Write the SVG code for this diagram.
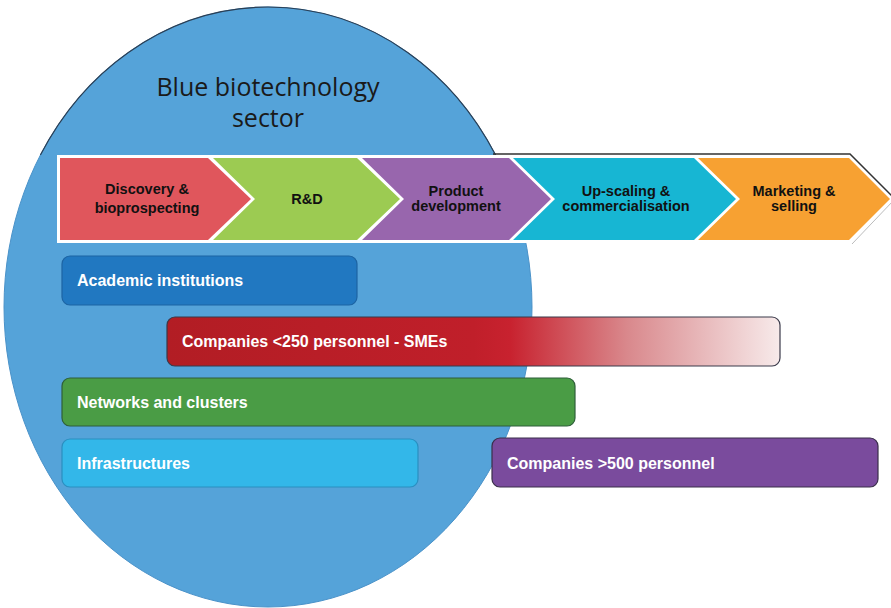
<svg xmlns="http://www.w3.org/2000/svg" width="891" height="608" viewBox="0 0 891 608">
<defs>
<linearGradient id="smeGrad" x1="0" y1="0" x2="1" y2="0">
<stop offset="0" stop-color="#b21d24"/>
<stop offset="0.5" stop-color="#c01f2a"/>
<stop offset="0.56" stop-color="#c8222f"/>
<stop offset="0.75" stop-color="#d9888c"/>
<stop offset="1" stop-color="#f7eaea"/>
</linearGradient>
</defs>
<style>
.chev-text{font-family:"Liberation Sans",Arial,sans-serif;font-weight:bold;font-size:14.5px;fill:#111;text-anchor:middle}
.bar-text{font-family:"Liberation Sans",Arial,sans-serif;font-weight:bold;font-size:16px;fill:#fff}
.bar{stroke-width:1.2}
.title{font-family:"Open Sans","Liberation Sans",sans-serif;font-size:25px;fill:#1a1a1a;text-anchor:middle}
</style>
<rect width="891" height="608" fill="#fff"/>
<g id="sector">
<ellipse cx="268" cy="307" rx="264" ry="300" fill="#55a3d9" stroke="#4a92c9" stroke-width="1"/>
<path d="M40.4,155 A264,300 0 0 1 495.6,155" fill="none" stroke="#2a3f55" stroke-width="1.2"/>
<text class="title" x="268" y="96">Blue biotechnology</text>
<text class="title" x="268" y="127">sector</text>
</g>
<g id="valuechain">
<polygon points="57,155 850,155 893,199 850,243 57,243" fill="#fff"/>
<polyline points="493,154 850,154 893,197" fill="none" stroke="#333" stroke-width="1.5"/>
<polyline points="852,244 893,201" fill="none" stroke="#bbb" stroke-width="1"/>
</g>
<g id="stage1">
<polygon points="60,158 208,158 251,199 208,240 60,240" fill="#e0565c"/>
<text class="chev-text" x="147" y="194">Discovery &amp;</text>
<text class="chev-text" x="147" y="213">bioprospecting</text>
</g>
<g id="stage2">
<polygon points="213,158 357,158 400,199 357,240 213,240 255,199" fill="#9ccb52"/>
<text class="chev-text" x="307" y="204">R&amp;D</text>
</g>
<g id="stage3">
<polygon points="362,158 509,158 551,199 509,240 362,240 404,199" fill="#9866ad"/>
<text class="chev-text" x="456" y="196">Product</text>
<text class="chev-text" x="456" y="211">development</text>
</g>
<g id="stage4">
<polygon points="513,158 694,158 736,199 694,240 513,240 555,199" fill="#17b6d3"/>
<text class="chev-text" x="626" y="196">Up-scaling &amp;</text>
<text class="chev-text" x="626" y="211">commercialisation</text>
</g>
<g id="stage5">
<polygon points="698,158 849,158 890,199 849,240 698,240 740,199" fill="#f7a132"/>
<text class="chev-text" x="794" y="196">Marketing &amp;</text>
<text class="chev-text" x="794" y="211">selling</text>
</g>
<g id="academic">
<rect class="bar" x="62" y="256" width="295" height="49" rx="8" fill="#2178c1" stroke="#1d64a3"/>
<text class="bar-text" x="77" y="286">Academic institutions</text>
</g>
<g id="smes">
<rect class="bar" x="167" y="317" width="613" height="49" rx="8" fill="url(#smeGrad)" stroke="#3a3a4a"/>
<text class="bar-text" x="182" y="347">Companies &lt;250 personnel - SMEs</text>
</g>
<g id="networks">
<rect class="bar" x="62" y="378" width="513" height="48" rx="8" fill="#4a9c45" stroke="#2f5f3a"/>
<text class="bar-text" x="77" y="408">Networks and clusters</text>
</g>
<g id="infrastructures">
<rect class="bar" x="62" y="439" width="356" height="48" rx="8" fill="#33b7e9" stroke="#2a8fc0"/>
<text class="bar-text" x="77" y="469">Infrastructures</text>
</g>
<g id="large">
<rect class="bar" x="492" y="438" width="386" height="49" rx="8" fill="#7a4b9d" stroke="#3a2f4a"/>
<text class="bar-text" x="507" y="469">Companies &gt;500 personnel</text>
</g>
<g id="connectors"></g>
</svg>
